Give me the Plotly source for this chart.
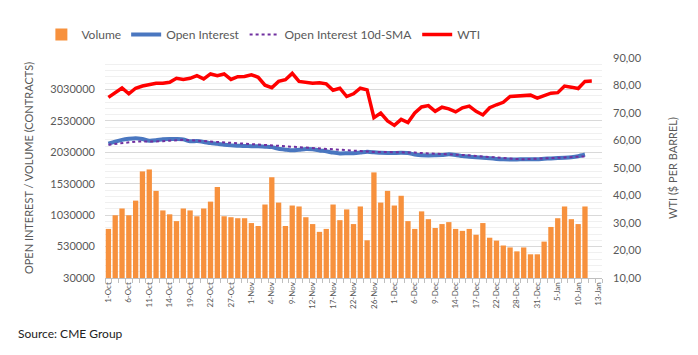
import plotly.graph_objects as go

dates = [
    "1-Oct", "4-Oct", "5-Oct", "6-Oct", "7-Oct", "8-Oct", "11-Oct", "12-Oct", "13-Oct", "14-Oct",
    "15-Oct", "18-Oct", "19-Oct", "20-Oct", "21-Oct", "22-Oct", "25-Oct", "26-Oct", "27-Oct", "28-Oct",
    "29-Oct", "1-Nov", "2-Nov", "3-Nov", "4-Nov", "5-Nov", "8-Nov", "9-Nov", "10-Nov", "11-Nov",
    "12-Nov", "15-Nov", "16-Nov", "17-Nov", "18-Nov", "19-Nov", "22-Nov", "23-Nov", "24-Nov", "26-Nov",
    "29-Nov", "30-Nov", "1-Dec", "2-Dec", "3-Dec", "6-Dec", "7-Dec", "8-Dec", "9-Dec", "10-Dec",
    "13-Dec", "14-Dec", "15-Dec", "16-Dec", "17-Dec", "20-Dec", "21-Dec", "22-Dec", "23-Dec", "27-Dec",
    "28-Dec", "29-Dec", "30-Dec", "31-Dec", "3-Jan", "4-Jan", "5-Jan", "6-Jan", "7-Jan", "10-Jan",
    "11-Jan", "12-Jan", "13-Jan",
]

labeled_dates = [
    "1-Oct", "6-Oct", "11-Oct", "14-Oct", "19-Oct", "22-Oct", "27-Oct", "1-Nov", "4-Nov", "9-Nov",
    "12-Nov", "17-Nov", "22-Nov", "26-Nov", "1-Dec", "6-Dec", "9-Dec", "14-Dec", "17-Dec", "22-Dec",
    "28-Dec", "31-Dec", "5-Jan", "10-Jan", "13-Jan",
]

volume = [
    811000, 1028000, 1136000, 1028000, 1261000, 1726000, 1757000, 1416000, 1105000, 1043000,
    935000, 1136000, 1105000, 1012000, 1136000, 1245000, 1478000, 1012000, 997000, 981000,
    981000, 904000, 857000, 1199000, 1633000, 1230000, 857000, 1183000, 1168000, 997000,
    888000, 764000, 811000, 1199000, 950000, 1121000, 888000, 1168000, 630000, 1710000,
    1230000, 1416000, 1183000, 1338000, 935000, 811000, 1090000, 966000, 826000, 888000,
    919000, 811000, 780000, 811000, 718000, 904000, 671000, 625000, 547000, 516000,
    454000, 516000, 407000, 407000, 609000, 842000, 981000, 1168000, 966000, 888000,
    1168000,
]

open_interest = [
    2166000, 2200000, 2228000, 2245000, 2255000, 2240000, 2215000, 2222000, 2239000, 2242000,
    2240000, 2235000, 2205000, 2208000, 2195000, 2177000, 2165000, 2150000, 2140000, 2135000,
    2130000, 2128000, 2125000, 2118000, 2112000, 2085000, 2072000, 2062000, 2070000, 2083000,
    2078000, 2060000, 2045000, 2025000, 2012000, 2014000, 2016000, 2025000, 2037000, 2030000,
    2022000, 2020000, 2020000, 2021000, 2018000, 1995000, 1982000, 1980000, 1982000, 1985000,
    1998000, 1988000, 1970000, 1960000, 1950000, 1943000, 1935000, 1925000, 1918000, 1916000,
    1917000, 1918000, 1918000, 1920000, 1927000, 1933000, 1938000, 1943000, 1952000, 1968000,
    1995000,
]

oi_sma = [
    2150000, 2165000, 2178000, 2190000, 2200000, 2200000, 2200000, 2200000, 2205000, 2215000,
    2225000, 2228000, 2222000, 2215000, 2208000, 2200000, 2192000, 2184000, 2177000, 2170000,
    2162000, 2155000, 2147000, 2140000, 2132000, 2125000, 2118000, 2110000, 2104000, 2098000,
    2092000, 2086000, 2080000, 2072000, 2062000, 2052000, 2045000, 2040000, 2037000, 2036000,
    2036000, 2036000, 2035000, 2033000, 2030000, 2025000, 2018000, 2014000, 2008000, 2003000,
    1999000, 1995000, 1990000, 1982000, 1972000, 1962000, 1953000, 1945000, 1937000, 1928000,
    1922000, 1920000, 1922000, 1925000, 1930000, 1936000, 1942000, 1948000, 1954000, 1960000,
    1965000,
]

wti = [
    75.7, 77.4, 79.1, 77.0, 79.0, 79.8, 80.3, 80.8, 80.8, 81.2,
    82.6, 82.2, 82.6, 83.6, 82.4, 84.2, 83.6, 84.2, 82.2, 83.2,
    83.3, 83.9, 83.0, 80.1, 79.2, 81.5, 82.1, 84.4, 81.5, 81.0,
    80.8, 81.0, 80.6, 78.3, 79.0, 76.0, 77.0, 79.0, 78.4, 68.3,
    70.0, 67.1, 65.5, 67.7, 66.5, 70.0, 72.2, 72.7, 70.6, 72.1,
    71.5, 70.4, 71.9, 72.5, 70.6, 69.3, 71.9, 73.0, 73.9, 76.0,
    76.2, 76.5, 76.5, 75.4, 76.2, 77.2, 77.4, 79.8, 79.4, 78.9,
    81.5, 81.6,
]

left_ticks = [30000, 530000, 1030000, 1530000, 2030000, 2530000, 3030000]
right_ticks = [10, 20, 30, 40, 50, 60, 70, 80, 90]

FONT = "Lato, 'Open Sans', sans-serif"
GRAY = "#595959"

fig = go.Figure()
fig.add_trace(go.Bar(
    x=dates[:len(volume)], y=volume, name="Volume",
    marker=dict(color="#F7913D", line=dict(width=0)),
))
fig.add_trace(go.Scatter(
    x=dates[:len(open_interest)], y=open_interest, name="Open Interest",
    mode="lines", line=dict(color="#4A77C0", width=4, shape="spline", smoothing=0.6),
))
fig.add_trace(go.Scatter(
    x=dates[:len(oi_sma)], y=oi_sma, name="Open Interest 10d-SMA",
    mode="lines", line=dict(color="#7030A0", width=2, dash="dot"),
))
fig.add_trace(go.Scatter(
    x=dates[:len(wti)], y=wti, name="WTI", yaxis="y2",
    mode="lines", line=dict(color="#FF0000", width=3.5),
))

tick_text = [d if d in labeled_dates else "" for d in dates]

fig.update_layout(
    width=682, height=339,
    margin=dict(l=97, r=88, t=45, b=69),
    paper_bgcolor="white", plot_bgcolor="white",
    font=dict(family=FONT, color=GRAY, size=11),
    separators=",.",
    bargap=0.22,
    showlegend=True,
    legend=dict(
        orientation="h", x=-0.128, xanchor="left", y=1.107, yanchor="middle",
        font=dict(size=12, color=GRAY), traceorder="normal",
        itemwidth=30, bgcolor="rgba(0,0,0,0)",
    ),
    xaxis=dict(
        type="category", categoryorder="array", categoryarray=dates,
        range=[-0.5, len(dates) - 0.5],
        tickmode="array", tickvals=dates, ticktext=tick_text,
        tickson="boundaries", ticks="outside", ticklen=4, tickcolor="#BFBFBF",
        tickangle=-90, tickfont=dict(size=8, color=GRAY),
        showline=True, linecolor="#BFBFBF", linewidth=1,
        showgrid=False, zeroline=False,
    ),
    yaxis=dict(
        range=[30000, 3530000],
        tickmode="array", tickvals=left_ticks, tickformat="d",
        showgrid=True, gridcolor="#D9D9D9", gridwidth=1,
        minor=dict(dtick=100000, tick0=30000, showgrid=True, gridcolor="#F0F0F0", gridwidth=1),
        zeroline=False, showline=False, ticks="", ticklabelstandoff=9,
        tickfont=dict(size=11, color=GRAY),
        title=dict(text="OPEN INTEREST / VOLUME (CONTRACTS)", font=dict(size=11, color=GRAY), standoff=14),
    ),
    yaxis2=dict(
        overlaying="y", side="right", range=[10, 90],
        tickmode="array", tickvals=right_ticks, tickformat=".2f",
        showgrid=False, zeroline=False, showline=False, ticks="", ticklabelstandoff=10,
        tickfont=dict(size=11, color=GRAY),
        title=dict(text="WTI ($ PER BARREL)", font=dict(size=11, color=GRAY), standoff=28),
    ),
    annotations=[dict(
        text="Source: CME Group", xref="paper", yref="paper",
        x=-0.179, y=-0.25, xanchor="left", yanchor="middle", showarrow=False,
        font=dict(size=12, color="#222222", family=FONT),
    )],
)

fig.write_html("out.html")
